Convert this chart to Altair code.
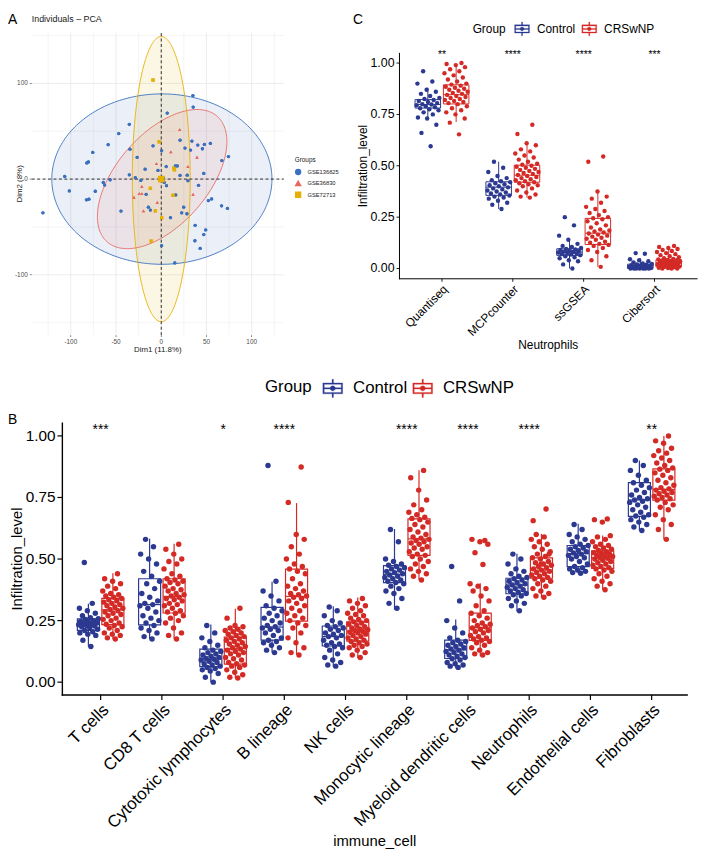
import numpy as np
import pandas as pd
import altair as alt

FONT = "Liberation Sans"

# ---------------- Panel A : PCA individuals ----------------
A_GROUPS = ["GSE136825", "GSE36830", "GSE72713"]
A_COLORS = ["#3A70BF", "#E8685F", "#E6B000"]
A_SHAPES = ["circle", "triangle-up", "square"]

GSE136825_DIM1 = [-26.6, 5.5, 15.6, 17.8, -3.6, -17.8, -35.3, -28.7, -22.6, 3.3, 5.8, -16.7, -14.2, -12.0, 16.0,
                  10.2, 24.8, 22.6, 28.4, 20.8, 28.7, 29.5, 26.2, 20.8, -9.1, 0.4,
                  33.9, 32.4, 40.4, 47.7, 45.5, 54.3, 47.0, 41.2, 67.0, 74.3, 52.1, 55.7, 66.7, 73.2, 37.5, 49.2,
                  47.0, 37.2, 43.0, 0.4, 15.0, -44.5, -64.1, -62.6, -56.5, -72.9, -75.7, -58.7, -47.0, -35.3,
                  -34.6, 6.6, 35.0, 35.3, -80.5, -82.3, -106.7, -101.6, -130.8, -82.7, -80.0]
GSE136825_DIM2 = [22.7, 13.1, 13.8, 13.8, 9.0, 10.3, 4.5, 1.4, -1.4, -3.5, -6.9, -15.9, -29.3, -32.4, -16.5,
                  -40.3, -29.3, -35.2, -36.2, 3.8, 4.1, -1.7, 32.4, 40.6, 34.8, 29.6,
                  39.7, 30.3, 35.5, 36.2, 31.7, 37.2, 5.9, -6.5, 19.3, 23.5, -22.4, -20.7, -27.9, -30.7, -48.3, -53.1,
                  -57.9, -64.4, -72.4, -69.6, -87.6, -33.4, -3.5, -6.2, -0.7, -12.7, 27.9, 35.9, 47.6, 57.2,
                  31.3, 69.0, 87.2, 75.2, 17.9, 16.9, 2.8, -12.4, -35.2, -21.7, -21.0]
GSE36830_DIM1 = [20.4, 10.6, -5.3, 39.5, 29.5, -21.5, -24.4, -21.5, -30.2, 35.2, -4.4, -19.7]
GSE36830_DIM2 = [51.7, 28.4, 16.2, 22.8, 13.1, -7.6, -15.2, -15.2, -19.0, -16.0, -24.3, -33.2]
GSE72713_DIM1 = [-9.1, -2.3, 13.8, 14.6, -12.0, 13.1, -6.5, 0.4, -11.0]
GSE72713_DIM2 = [103.4, 39.0, 11.4, 9.7, -9.7, -16.9, -33.2, -40.4, -64.8]

# group means and concentration ellipses (center, semi-axes, rotation in degrees)
MEAN_DIM1 = [0.7, 1.0, 0.0]
MEAN_DIM2 = [0.0, 0.0, 0.0]
ELL_A = [121.7, 89.5, 32.0]
ELL_B = [89.0, 49.0, 149.0]
ELL_ANGLE = [0.0, 45.8, 0.0]

A_GRID_X_MAJOR = [-100, -50, 0, 50, 100]
A_GRID_X_MINOR = [-125, -75, -25, 25, 75, 125]
A_GRID_Y_MAJOR = [-100, 0, 100]
A_GRID_Y_MINOR = [-150, -50, 50, 150]
A_XTICKS = [-100, -50, 0, 50, 100]
A_XTICK_LABELS = ["-100", "-50", "0", "50", "100"]
A_YTICKS = [-100, 0, 100]
A_YTICK_LABELS = ["-100", "0", "100"]
A_XDOM = [-143.2, 135.5]
A_YDOM = [-163.0, 153.0]

# ---------------- Panels B and C : immune infiltration ----------------
GROUPS = ["Control", "CRSwNP"]
GROUP_COLORS = ["#2B3990", "#D42A26"]
SIG_Y = 1.0
LEVEL_TICKS = [0.0, 0.25, 0.5, 0.75, 1.0]
LEVEL_TICK_LABELS = ["0.00", "0.25", "0.50", "0.75", "1.00"]

B_CATS = ["T cells", "CD8 T cells", "Cytotoxic lymphocytes", "B lineage", "NK cells",
          "Monocytic lineage", "Myeloid dendritic cells", "Neutrophils", "Endothelial cells", "Fibroblasts"]
B_SIG = ["***", "", "*", "****", "", "****", "****", "****", "", "**"]

B_CTRL_LO = [0.145, 0.174, 0.0, 0.12, 0.063, 0.294, 0.057, 0.288, 0.442, 0.616]
B_CTRL_Q1 = [0.21, 0.233, 0.063, 0.171, 0.147, 0.404, 0.096, 0.359, 0.469, 0.673]
B_CTRL_MED = [0.234, 0.315, 0.094, 0.224, 0.185, 0.438, 0.131, 0.395, 0.522, 0.74]
B_CTRL_Q3 = [0.257, 0.42, 0.134, 0.304, 0.228, 0.473, 0.171, 0.422, 0.555, 0.81]
B_CTRL_HI = [0.318, 0.582, 0.234, 0.408, 0.308, 0.622, 0.254, 0.522, 0.643, 0.90]
B_CRS_LO = [0.174, 0.174, 0.017, 0.111, 0.098, 0.415, 0.107, 0.344, 0.375, 0.58]
B_CRS_Q1 = [0.234, 0.281, 0.073, 0.248, 0.167, 0.515, 0.17, 0.422, 0.462, 0.739]
B_CRS_MED = [0.294, 0.348, 0.136, 0.348, 0.207, 0.582, 0.221, 0.455, 0.505, 0.783]
B_CRS_Q3 = [0.34, 0.42, 0.183, 0.459, 0.245, 0.663, 0.28, 0.505, 0.533, 0.866]
B_CRS_HI = [0.442, 0.562, 0.298, 0.727, 0.344, 0.861, 0.402, 0.602, 0.596, 1.0]

B_CTRL_PTS = [
    [0.145, 0.17, 0.19, 0.195, 0.20, 0.205, 0.21, 0.215, 0.22, 0.225, 0.228, 0.23, 0.233, 0.235, 0.238, 0.24, 0.243, 0.247, 0.25, 0.255, 0.258, 0.262, 0.27, 0.28, 0.29, 0.30, 0.32, 0.486],
    [0.175, 0.185, 0.20, 0.21, 0.22, 0.23, 0.24, 0.25, 0.26, 0.27, 0.285, 0.30, 0.31, 0.315, 0.32, 0.33, 0.345, 0.36, 0.38, 0.40, 0.41, 0.43, 0.45, 0.48, 0.50, 0.52, 0.55, 0.58],
    [0.0, 0.02, 0.035, 0.045, 0.05, 0.055, 0.06, 0.065, 0.07, 0.075, 0.08, 0.085, 0.09, 0.093, 0.096, 0.10, 0.105, 0.11, 0.115, 0.12, 0.125, 0.13, 0.14, 0.15, 0.165, 0.18, 0.20, 0.23],
    [0.12, 0.13, 0.14, 0.15, 0.16, 0.165, 0.17, 0.18, 0.19, 0.20, 0.21, 0.215, 0.22, 0.225, 0.23, 0.24, 0.25, 0.26, 0.27, 0.28, 0.29, 0.30, 0.31, 0.33, 0.35, 0.37, 0.41, 0.88],
    [0.065, 0.07, 0.08, 0.09, 0.10, 0.115, 0.13, 0.14, 0.145, 0.15, 0.155, 0.16, 0.17, 0.18, 0.185, 0.19, 0.195, 0.20, 0.21, 0.215, 0.22, 0.225, 0.23, 0.24, 0.25, 0.27, 0.29, 0.305],
    [0.30, 0.32, 0.34, 0.36, 0.37, 0.38, 0.39, 0.40, 0.405, 0.41, 0.415, 0.42, 0.425, 0.43, 0.435, 0.44, 0.445, 0.45, 0.455, 0.46, 0.465, 0.47, 0.475, 0.48, 0.49, 0.50, 0.57, 0.62],
    [0.06, 0.065, 0.07, 0.075, 0.08, 0.09, 0.095, 0.10, 0.105, 0.11, 0.115, 0.12, 0.125, 0.13, 0.135, 0.14, 0.145, 0.15, 0.155, 0.16, 0.165, 0.17, 0.18, 0.20, 0.22, 0.25, 0.33, 0.47],
    [0.29, 0.31, 0.32, 0.33, 0.34, 0.35, 0.355, 0.36, 0.365, 0.37, 0.375, 0.38, 0.385, 0.39, 0.395, 0.40, 0.405, 0.41, 0.415, 0.42, 0.425, 0.43, 0.44, 0.45, 0.46, 0.48, 0.50, 0.52],
    [0.442, 0.445, 0.45, 0.455, 0.46, 0.465, 0.47, 0.48, 0.49, 0.50, 0.505, 0.51, 0.515, 0.52, 0.525, 0.53, 0.535, 0.54, 0.545, 0.55, 0.555, 0.56, 0.57, 0.58, 0.59, 0.60, 0.62, 0.64],
    [0.616, 0.63, 0.64, 0.65, 0.66, 0.67, 0.675, 0.68, 0.69, 0.70, 0.71, 0.72, 0.73, 0.735, 0.74, 0.745, 0.75, 0.76, 0.77, 0.78, 0.79, 0.80, 0.81, 0.82, 0.84, 0.86, 0.88, 0.90],
]
B_CRS_PTS = [
    [0.175, 0.18, 0.19, 0.195, 0.20, 0.21, 0.22, 0.225, 0.23, 0.235, 0.24, 0.25, 0.255, 0.26, 0.27, 0.275, 0.28, 0.285, 0.29, 0.295, 0.30, 0.305, 0.31, 0.315, 0.32, 0.325, 0.33, 0.335, 0.34, 0.345, 0.35, 0.355, 0.36, 0.37, 0.38, 0.39, 0.40, 0.41, 0.42, 0.44],
    [0.175, 0.19, 0.20, 0.22, 0.24, 0.25, 0.26, 0.27, 0.28, 0.285, 0.29, 0.30, 0.31, 0.315, 0.32, 0.33, 0.335, 0.34, 0.345, 0.35, 0.355, 0.36, 0.37, 0.375, 0.38, 0.39, 0.40, 0.405, 0.41, 0.415, 0.42, 0.43, 0.44, 0.46, 0.48, 0.49, 0.50, 0.52, 0.54, 0.56],
    [0.017, 0.02, 0.03, 0.04, 0.05, 0.06, 0.065, 0.07, 0.075, 0.08, 0.09, 0.095, 0.10, 0.11, 0.115, 0.12, 0.125, 0.13, 0.135, 0.14, 0.145, 0.15, 0.155, 0.16, 0.165, 0.17, 0.175, 0.18, 0.185, 0.19, 0.195, 0.20, 0.205, 0.21, 0.215, 0.22, 0.225, 0.23, 0.26, 0.30],
    [0.11, 0.12, 0.14, 0.16, 0.18, 0.20, 0.22, 0.23, 0.24, 0.25, 0.26, 0.27, 0.28, 0.29, 0.30, 0.31, 0.32, 0.33, 0.34, 0.345, 0.35, 0.355, 0.36, 0.37, 0.38, 0.39, 0.40, 0.42, 0.44, 0.45, 0.46, 0.47, 0.48, 0.50, 0.52, 0.55, 0.58, 0.60, 0.73, 0.874],
    [0.10, 0.11, 0.12, 0.13, 0.14, 0.145, 0.15, 0.155, 0.16, 0.165, 0.17, 0.175, 0.18, 0.185, 0.19, 0.195, 0.20, 0.203, 0.206, 0.21, 0.213, 0.216, 0.22, 0.225, 0.23, 0.235, 0.24, 0.245, 0.25, 0.255, 0.26, 0.27, 0.275, 0.28, 0.29, 0.30, 0.31, 0.32, 0.33, 0.34],
    [0.415, 0.43, 0.44, 0.45, 0.46, 0.47, 0.48, 0.49, 0.50, 0.51, 0.515, 0.52, 0.53, 0.54, 0.545, 0.55, 0.56, 0.565, 0.57, 0.575, 0.58, 0.585, 0.59, 0.60, 0.61, 0.62, 0.63, 0.64, 0.65, 0.66, 0.665, 0.67, 0.68, 0.69, 0.70, 0.72, 0.74, 0.78, 0.83, 0.86],
    [0.11, 0.115, 0.12, 0.13, 0.14, 0.15, 0.16, 0.165, 0.17, 0.175, 0.18, 0.185, 0.19, 0.20, 0.205, 0.21, 0.215, 0.22, 0.225, 0.23, 0.235, 0.24, 0.25, 0.26, 0.27, 0.28, 0.29, 0.31, 0.33, 0.35, 0.37, 0.38, 0.39, 0.40, 0.478, 0.526, 0.56, 0.57, 0.58, 0.575],
    [0.345, 0.35, 0.36, 0.37, 0.38, 0.39, 0.40, 0.41, 0.415, 0.42, 0.425, 0.43, 0.435, 0.44, 0.445, 0.45, 0.455, 0.46, 0.465, 0.47, 0.475, 0.48, 0.485, 0.49, 0.50, 0.505, 0.51, 0.52, 0.53, 0.54, 0.55, 0.56, 0.57, 0.58, 0.59, 0.60, 0.52, 0.48, 0.656, 0.703],
    [0.375, 0.39, 0.40, 0.41, 0.42, 0.43, 0.44, 0.45, 0.455, 0.46, 0.465, 0.47, 0.475, 0.48, 0.485, 0.49, 0.495, 0.50, 0.503, 0.506, 0.51, 0.513, 0.516, 0.52, 0.523, 0.526, 0.53, 0.535, 0.54, 0.545, 0.55, 0.555, 0.56, 0.57, 0.58, 0.59, 0.595, 0.65, 0.66, 0.663],
    [0.58, 0.62, 0.64, 0.66, 0.68, 0.70, 0.71, 0.72, 0.73, 0.74, 0.745, 0.75, 0.755, 0.76, 0.765, 0.77, 0.775, 0.78, 0.785, 0.79, 0.80, 0.81, 0.82, 0.83, 0.84, 0.85, 0.86, 0.865, 0.87, 0.88, 0.89, 0.90, 0.91, 0.92, 0.93, 0.94, 0.95, 0.97, 0.98, 1.0],
]

C_CATS = ["Quantiseq", "MCPcounter", "ssGSEA", "Cibersort"]
C_SIG = ["**", "****", "****", "***"]
C_CTRL_LO = [0.73, 0.289, 0.0, 0.0]
C_CTRL_Q1 = [0.781, 0.356, 0.064, 0.0]
C_CTRL_MED = [0.798, 0.396, 0.08, 0.008]
C_CTRL_Q3 = [0.822, 0.422, 0.096, 0.021]
C_CTRL_HI = [0.88, 0.52, 0.14, 0.05]
C_CRS_LO = [0.713, 0.345, 0.008, 0.0]
C_CRS_Q1 = [0.801, 0.42, 0.117, 0.008]
C_CRS_MED = [0.846, 0.454, 0.172, 0.027]
C_CRS_Q3 = [0.894, 0.503, 0.244, 0.043]
C_CRS_HI = [0.995, 0.601, 0.377, 0.11]
C_CTRL_PTS = [
    [0.595, 0.66, 0.70, 0.73, 0.735, 0.75, 0.76, 0.77, 0.775, 0.78, 0.785, 0.79, 0.795, 0.798, 0.80, 0.805, 0.81, 0.815, 0.82, 0.825, 0.83, 0.84, 0.85, 0.86, 0.87, 0.90, 0.91, 0.96],
    [0.29, 0.31, 0.32, 0.33, 0.34, 0.345, 0.35, 0.355, 0.36, 0.365, 0.37, 0.375, 0.38, 0.385, 0.39, 0.395, 0.40, 0.405, 0.41, 0.415, 0.42, 0.425, 0.43, 0.44, 0.45, 0.47, 0.49, 0.52],
    [0.0, 0.02, 0.035, 0.04, 0.05, 0.055, 0.06, 0.065, 0.068, 0.07, 0.073, 0.076, 0.078, 0.08, 0.082, 0.085, 0.088, 0.09, 0.093, 0.095, 0.10, 0.105, 0.11, 0.12, 0.14, 0.16, 0.21, 0.25],
    [0.0, 0.0, 0.0, 0.0, 0.0, 0.0, 0.0, 0.002, 0.004, 0.005, 0.006, 0.007, 0.008, 0.009, 0.01, 0.012, 0.014, 0.016, 0.018, 0.02, 0.022, 0.025, 0.03, 0.035, 0.04, 0.045, 0.072, 0.075],
]
C_CRS_PTS = [
    [0.653, 0.71, 0.73, 0.75, 0.76, 0.77, 0.78, 0.79, 0.80, 0.805, 0.81, 0.815, 0.82, 0.825, 0.83, 0.835, 0.84, 0.845, 0.85, 0.855, 0.86, 0.865, 0.87, 0.875, 0.88, 0.885, 0.89, 0.895, 0.90, 0.91, 0.92, 0.93, 0.94, 0.95, 0.96, 0.97, 0.98, 0.99, 0.995, 1.0],
    [0.345, 0.35, 0.36, 0.37, 0.38, 0.39, 0.40, 0.405, 0.41, 0.415, 0.42, 0.425, 0.43, 0.435, 0.44, 0.445, 0.45, 0.455, 0.46, 0.465, 0.47, 0.475, 0.48, 0.485, 0.49, 0.495, 0.50, 0.505, 0.51, 0.52, 0.53, 0.54, 0.55, 0.56, 0.57, 0.58, 0.60, 0.61, 0.655, 0.70],
    [0.008, 0.04, 0.06, 0.08, 0.09, 0.10, 0.11, 0.115, 0.12, 0.125, 0.13, 0.14, 0.145, 0.15, 0.155, 0.16, 0.165, 0.17, 0.175, 0.18, 0.185, 0.19, 0.20, 0.21, 0.22, 0.23, 0.24, 0.245, 0.25, 0.26, 0.27, 0.28, 0.29, 0.30, 0.32, 0.34, 0.35, 0.375, 0.52, 0.545],
    [0.0, 0.0, 0.0, 0.002, 0.004, 0.006, 0.008, 0.01, 0.012, 0.014, 0.016, 0.018, 0.02, 0.022, 0.024, 0.026, 0.027, 0.028, 0.03, 0.032, 0.034, 0.036, 0.038, 0.04, 0.042, 0.044, 0.046, 0.05, 0.055, 0.06, 0.065, 0.07, 0.075, 0.08, 0.085, 0.09, 0.095, 0.10, 0.105, 0.11],
]

# boxplot legend key drawn as a filled outline (box with hole, median bar, whiskers, dot)
BOX_GLYPH = ("M-1,-0.55H1V0.55H-1Z "
             "M-0.86,-0.41V0.41H0.86V-0.41Z "
             "M-0.86,-0.07H0.86V0.07H-0.86Z "
             "M-0.07,-0.92H0.07V-0.55H-0.07Z "
             "M-0.07,0.55H0.07V0.92H-0.07Z "
             "M-0.26,0A0.26,0.26,0,1,1,0.26,0A0.26,0.26,0,1,1,-0.26,0Z")


# ======================= hand-built axes (ggplot look) =======================
def manual_axes(xsc, ysc, xdom, ydom, xvals, xlabs, yvals, ylabs, xtitle, ytitle, st):
    out = []
    if st["domain"]:
        out.append(alt.Chart(alt.Data(values=[{"a": xdom[0], "b": xdom[1], "c": ydom[0]}]))
                   .mark_rule(color=st["line"], strokeWidth=st["dw"], strokeCap="square")
                   .encode(x=alt.X("a:Q", scale=xsc, axis=None), x2="b:Q",
                           y=alt.Y("c:Q", scale=ysc, axis=None)))
        out.append(alt.Chart(alt.Data(values=[{"a": ydom[0], "b": ydom[1], "c": xdom[0]}]))
                   .mark_rule(color=st["line"], strokeWidth=st["dw"], strokeCap="square")
                   .encode(y=alt.Y("a:Q", scale=ysc, axis=None), y2="b:Q",
                           x=alt.X("c:Q", scale=xsc, axis=None)))
    xd = pd.DataFrame({"v": xvals, "lab": xlabs})
    xd["c"] = ydom[0]
    yd = pd.DataFrame({"v": yvals, "lab": ylabs})
    yd["c"] = xdom[0]
    out.append(alt.Chart(xd).mark_tick(orient="vertical", size=st["tick"], thickness=st["tw"],
                                       yOffset=st["tick"] / 2, color=st["line"], opacity=1)
               .encode(x=alt.X("v:Q", scale=xsc, axis=None), y=alt.Y("c:Q", scale=ysc, axis=None)))
    out.append(alt.Chart(yd).mark_tick(orient="horizontal", size=st["tick"], thickness=st["tw"],
                                       xOffset=-st["tick"] / 2, color=st["line"], opacity=1)
               .encode(y=alt.Y("v:Q", scale=ysc, axis=None), x=alt.X("c:Q", scale=xsc, axis=None)))
    xl = dict(font=FONT, fontSize=st["xfs"], color=st["lab"], yOffset=st["tick"] + st["pad"])
    if st["rot"]:
        xl.update(angle=315, align="right", baseline="top")
    else:
        xl.update(align="center", baseline="top")
    out.append(alt.Chart(xd).mark_text(**xl)
               .encode(x=alt.X("v:Q", scale=xsc, axis=None), y=alt.Y("c:Q", scale=ysc, axis=None),
                       text="lab:N"))
    out.append(alt.Chart(yd).mark_text(font=FONT, fontSize=st["yfs"], color=st["lab"], align="right",
                                       baseline="middle", xOffset=-(st["tick"] + st["pad"]))
               .encode(y=alt.Y("v:Q", scale=ysc, axis=None), x=alt.X("c:Q", scale=xsc, axis=None),
                       text="lab:N"))
    out.append(alt.Chart(alt.Data(values=[{"m": (xdom[0] + xdom[1]) / 2, "c": ydom[0], "t": xtitle}]))
               .mark_text(font=FONT, fontSize=st["tfs"], color=st["tcol"], align="center",
                          baseline="middle", yOffset=st["xto"])
               .encode(x=alt.X("m:Q", scale=xsc, axis=None), y=alt.Y("c:Q", scale=ysc, axis=None),
                       text="t:N"))
    out.append(alt.Chart(alt.Data(values=[{"m": (ydom[0] + ydom[1]) / 2, "c": xdom[0], "t": ytitle}]))
               .mark_text(font=FONT, fontSize=st["tfs"], color=st["tcol"], align="center",
                          baseline="middle", angle=270, xOffset=st["yto"])
               .encode(y=alt.Y("m:Q", scale=ysc, axis=None), x=alt.X("c:Q", scale=xsc, axis=None),
                       text="t:N"))
    return out


# ======================= Panel A =======================
A_X = alt.Scale(domain=A_XDOM, range=[24, 279], nice=False, zero=False)
A_Y = alt.Scale(domain=A_YDOM, range=[326, 20], nice=False, zero=False)
A_COL = alt.Scale(domain=A_GROUPS, range=A_COLORS)
A_SHP = alt.Scale(domain=A_GROUPS, range=A_SHAPES)

pts_rows = []
for g, xs, ys in zip(A_GROUPS, [GSE136825_DIM1, GSE36830_DIM1, GSE72713_DIM1],
                     [GSE136825_DIM2, GSE36830_DIM2, GSE72713_DIM2]):
    for x, y in zip(xs, ys):
        pts_rows.append({"Group": g, "Dim1": x, "Dim2": y})
dfA = pd.DataFrame(pts_rows)
dfMean = pd.DataFrame({"Group": A_GROUPS, "Dim1": MEAN_DIM1, "Dim2": MEAN_DIM2})

outline_rows, area_rows = [], []
for g, cx, cy, a, b, ang in zip(A_GROUPS, MEAN_DIM1, MEAN_DIM2, ELL_A, ELL_B, ELL_ANGLE):
    th = np.deg2rad(ang)
    t = np.linspace(0, 2 * np.pi, 241)
    xs = cx + a * np.cos(t) * np.cos(th) - b * np.sin(t) * np.sin(th)
    ys = cy + a * np.cos(t) * np.sin(th) + b * np.sin(t) * np.cos(th)
    for k, (x, y) in enumerate(zip(xs, ys)):
        outline_rows.append({"Group": g, "ex": float(x), "ey": float(y), "ord": k})
    qa = np.cos(th) ** 2 / a ** 2 + np.sin(th) ** 2 / b ** 2
    qb = 2 * np.cos(th) * np.sin(th) * (1 / a ** 2 - 1 / b ** 2)
    qc = np.sin(th) ** 2 / a ** 2 + np.cos(th) ** 2 / b ** 2
    xm = np.sqrt(4 * qc / (4 * qa * qc - qb ** 2))
    xg = np.linspace(-xm, xm, 241)
    disc = np.clip(qb ** 2 * xg ** 2 - 4 * qc * (qa * xg ** 2 - 1), 0, None)
    up = (-qb * xg + np.sqrt(disc)) / (2 * qc)
    dn = (-qb * xg - np.sqrt(disc)) / (2 * qc)
    for x, u, d in zip(xg, up, dn):
        area_rows.append({"Group": g, "ex": float(cx + x), "ey": float(cy + u), "ey2": float(cy + d)})
dfOutline = pd.DataFrame(outline_rows)
dfArea = pd.DataFrame(area_rows)


def vgrid(values, width):
    return (alt.Chart(pd.DataFrame({"gx": values}))
            .transform_calculate(y0=str(A_YDOM[0]), y1=str(A_YDOM[1]))
            .mark_rule(color="#EAEAEA", strokeWidth=width)
            .encode(x=alt.X("gx:Q", scale=A_X, axis=None),
                    y=alt.Y("y0:Q", scale=A_Y, axis=None), y2="y1:Q"))


def hgrid(values, width):
    return (alt.Chart(pd.DataFrame({"gy": values}))
            .transform_calculate(x0=str(A_XDOM[0]), x1=str(A_XDOM[1]))
            .mark_rule(color="#EAEAEA", strokeWidth=width)
            .encode(y=alt.Y("gy:Q", scale=A_Y, axis=None),
                    x=alt.X("x0:Q", scale=A_X, axis=None), x2="x1:Q"))


legA = alt.Legend(orient="none", legendX=290, legendY=146, title="Groups",
                  titleFont=FONT, titleFontSize=6.5, titleFontWeight="normal", titleColor="#1A1A1A",
                  labelFont=FONT, labelFontSize=5.8, labelColor="#1A1A1A", symbolSize=24,
                  rowPadding=0.5, labelOffset=6, titlePadding=5, padding=0)

a_area = alt.Chart(dfArea).mark_area(fillOpacity=0.1).encode(
    x=alt.X("ex:Q", scale=A_X, axis=None), y=alt.Y("ey:Q", scale=A_Y, axis=None), y2="ey2:Q",
    fill=alt.Fill("Group:N", scale=A_COL, legend=None))
a_line = alt.Chart(dfOutline).mark_line(strokeWidth=0.9).encode(
    x=alt.X("ex:Q", scale=A_X, axis=None), y=alt.Y("ey:Q", scale=A_Y, axis=None),
    stroke=alt.Stroke("Group:N", scale=A_COL, legend=None), detail="Group:N", order="ord:Q")

zero_v = (alt.Chart(pd.DataFrame({"z": [0]}))
          .transform_calculate(y0=str(A_YDOM[0]), y1=str(A_YDOM[1]))
          .mark_rule(color="black", strokeDash=[3, 2.5], strokeWidth=0.8)
          .encode(x=alt.X("z:Q", scale=A_X, axis=None), y=alt.Y("y0:Q", scale=A_Y, axis=None), y2="y1:Q"))
zero_h = (alt.Chart(pd.DataFrame({"z": [0]}))
          .transform_calculate(x0=str(A_XDOM[0]), x1=str(A_XDOM[1]))
          .mark_rule(color="black", strokeDash=[3, 2.5], strokeWidth=0.8)
          .encode(y=alt.Y("z:Q", scale=A_Y, axis=None), x=alt.X("x0:Q", scale=A_X, axis=None), x2="x1:Q"))

a_pts = alt.Chart(dfA).mark_point(filled=True, size=11, opacity=1).encode(
    x=alt.X("Dim1:Q", scale=A_X, axis=None),
    y=alt.Y("Dim2:Q", scale=A_Y, axis=None),
    color=alt.Color("Group:N", scale=A_COL, legend=legA),
    shape=alt.Shape("Group:N", scale=A_SHP, legend=legA))

a_mean = alt.Chart(dfMean).mark_point(filled=True, size=45, opacity=1).encode(
    x=alt.X("Dim1:Q", scale=A_X, axis=None), y=alt.Y("Dim2:Q", scale=A_Y, axis=None),
    color=alt.Color("Group:N", scale=A_COL, legend=None),
    shape=alt.Shape("Group:N", scale=A_SHP, legend=None))

A_STYLE = dict(domain=False, line="#333333", dw=0.6, tick=2, tw=0.6, pad=2, lab="#4D4D4D",
               xfs=6.5, yfs=6.5, rot=False, tfs=8, tcol="#1A1A1A", xto=15, yto=-12)
panelA = alt.layer(a_pts, vgrid(A_GRID_X_MINOR, 0.5), hgrid(A_GRID_Y_MINOR, 0.5),
                   vgrid(A_GRID_X_MAJOR, 0.9), hgrid(A_GRID_Y_MAJOR, 0.9),
                   a_area, a_line, zero_v, zero_h, a_pts, a_mean,
                   *manual_axes(A_X, A_Y, A_XDOM, A_YDOM, A_XTICKS, A_XTICK_LABELS, A_YTICKS,
                                A_YTICK_LABELS, "Dim1 (11.8%)", "Dim2 (8%)", A_STYLE))


# ======================= box panels =======================
def box_panel(cats, ctrl_stats, crs_stats, ctrl_pts, crs_pts, sig, xsc, ysc, legend,
              pt_size, star_size, star_dy, lw):
    gsc = alt.Scale(domain=GROUPS, range=GROUP_COLORS)
    rows = []
    for g, side, st in (("Control", -1, ctrl_stats), ("CRSwNP", 1, crs_stats)):
        lo, q1, med, q3, hi = st
        for i in range(len(cats)):
            rows.append({"idx": i, "Group": g, "side": side, "lo": lo[i], "q1": q1[i],
                         "med": med[i], "q3": q3[i], "hi": hi[i]})
    box_df = pd.DataFrame(rows)
    prow = []
    for g, side, pts in (("Control", -1, ctrl_pts), ("CRSwNP", 1, crs_pts)):
        for i, vals in enumerate(pts):
            for v in vals:
                prow.append({"idx": i, "Group": g, "side": side, "val": v})
    pt_df = pd.DataFrame(prow)

    base = (alt.Chart(box_df)
            .transform_calculate(xc="datum.idx + datum.side * 0.2")
            .transform_calculate(xl="datum.xc - 0.18", xr="datum.xc + 0.18"))
    stk = alt.Stroke("Group:N", scale=gsc, legend=None)
    boxes = base.mark_rect(filled=False, fill="transparent", strokeWidth=lw).encode(
        x=alt.X("xl:Q", scale=xsc, axis=None), x2="xr:Q",
        y=alt.Y("q1:Q", scale=ysc, axis=None), y2="q3:Q",
        stroke=alt.Stroke("Group:N", scale=gsc, legend=legend))
    meds = base.mark_rule(strokeWidth=lw).encode(
        x=alt.X("xl:Q", scale=xsc, axis=None), x2="xr:Q",
        y=alt.Y("med:Q", scale=ysc, axis=None), stroke=stk)
    wlo = base.mark_rule(strokeWidth=lw).encode(
        x=alt.X("xc:Q", scale=xsc, axis=None),
        y=alt.Y("lo:Q", scale=ysc, axis=None), y2="q1:Q", stroke=stk)
    whi = base.mark_rule(strokeWidth=lw).encode(
        x=alt.X("xc:Q", scale=xsc, axis=None),
        y=alt.Y("q3:Q", scale=ysc, axis=None), y2="hi:Q", stroke=stk)
    pts = (alt.Chart(pt_df)
           .transform_window(rn="row_number()", groupby=["idx", "Group"])
           .transform_calculate(jx="datum.idx + datum.side * 0.2 + (((datum.rn * 0.618034) % 1) - 0.5) * 0.34")
           .mark_circle(size=pt_size, opacity=1)
           .encode(x=alt.X("jx:Q", scale=xsc, axis=None),
                   y=alt.Y("val:Q", scale=ysc, axis=None),
                   fill=alt.Fill("Group:N", scale=gsc, legend=None)))
    stars = (alt.Chart(pd.DataFrame({"idx": list(range(len(cats))), "sig": sig}))
             .transform_calculate(ys=str(SIG_Y))
             .mark_text(font=FONT, fontSize=star_size, baseline="alphabetic", align="center",
                        color="black", dy=star_dy)
             .encode(x=alt.X("idx:Q", scale=xsc, axis=None),
                     y=alt.Y("ys:Q", scale=ysc, axis=None), text="sig:N"))
    return [boxes, wlo, whi, meds, pts, stars]


# ----- Panel C -----
C_XDOM = [-0.6, 3.6]
C_YDOM = [-0.05, 1.047]
C_X = alt.Scale(domain=C_XDOM, range=[396, 697], nice=False, zero=False)
C_Y = alt.Scale(domain=C_YDOM, range=[269, 41], nice=False, zero=False)
c_leg = alt.Legend(orient="none", legendX=470, legendY=8, direction="horizontal", title="Group",
                   titleOrient="left", titleFont=FONT, titleFontSize=12, titleFontWeight="normal",
                   titleColor="black", labelFont=FONT, labelFontSize=12, labelColor="black",
                   symbolType=BOX_GLYPH, symbolSize=225, symbolStrokeWidth=0.3,
                   labelOffset=7, columnPadding=5, titlePadding=8, padding=0)
C_STYLE = dict(domain=True, line="black", dw=1.0, tick=3, tw=0.9, pad=2, lab="black",
               xfs=12, yfs=12.5, rot=True, tfs=12, tcol="black", xto=67, yto=-37)
panelC = alt.layer(*box_panel(C_CATS,
                              (C_CTRL_LO, C_CTRL_Q1, C_CTRL_MED, C_CTRL_Q3, C_CTRL_HI),
                              (C_CRS_LO, C_CRS_Q1, C_CRS_MED, C_CRS_Q3, C_CRS_HI),
                              C_CTRL_PTS, C_CRS_PTS, C_SIG, C_X, C_Y, c_leg,
                              pt_size=20, star_size=10.5, star_dy=-5, lw=1.0),
                   *manual_axes(C_X, C_Y, C_XDOM, C_YDOM, list(range(len(C_CATS))), C_CATS,
                                LEVEL_TICKS, LEVEL_TICK_LABELS, "Neutrophils", "Infiltration_level",
                                C_STYLE))

# ----- Panel B -----
B_XDOM = [-0.625, 9.58]
B_YDOM = [-0.052, 1.052]
B_X = alt.Scale(domain=B_XDOM, range=[55, 687], nice=False, zero=False)
B_Y = alt.Scale(domain=B_YDOM, range=[690, 415], nice=False, zero=False)
b_leg = alt.Legend(orient="none", legendX=260, legendY=369, direction="horizontal", title="Group",
                   titleOrient="left", titleFont=FONT, titleFontSize=17, titleFontWeight="normal",
                   titleColor="black", labelFont=FONT, labelFontSize=17, labelColor="black",
                   symbolType=BOX_GLYPH, symbolSize=400, symbolStrokeWidth=0.3,
                   labelOffset=10, columnPadding=4, titlePadding=10, padding=0)
B_STYLE = dict(domain=True, line="black", dw=1.4, tick=5, tw=1.2, pad=2, lab="black",
               xfs=17, yfs=15.5, rot=True, tfs=15, tcol="black", xto=148, yto=-46)
panelB = alt.layer(*box_panel(B_CATS,
                              (B_CTRL_LO, B_CTRL_Q1, B_CTRL_MED, B_CTRL_Q3, B_CTRL_HI),
                              (B_CRS_LO, B_CRS_Q1, B_CRS_MED, B_CRS_Q3, B_CRS_HI),
                              B_CTRL_PTS, B_CRS_PTS, B_SIG, B_X, B_Y, b_leg,
                              pt_size=30, star_size=14, star_dy=-2, lw=1.2),
                   *manual_axes(B_X, B_Y, B_XDOM, B_YDOM, list(range(len(B_CATS))), B_CATS,
                                LEVEL_TICKS, LEVEL_TICK_LABELS, "immune_cell", "Infiltration_level",
                                B_STYLE))


# ----- panel tags and subtitle -----
def tag(text, x, y, size, color="black"):
    return alt.Chart(alt.Data(values=[{"t": text}])).mark_text(
        x=x, y=y, align="left", baseline="alphabetic", font=FONT, fontSize=size, color=color
    ).encode(text="t:N")


tags = [tag("A", 0, 11, 14), tag("C", 349, 11, 14), tag("B", 0, 416, 14),
        tag("Individuals \u2013 PCA", 24, 9, 9, "#1A1A1A")]

chart = (alt.layer(panelA, panelC, panelB, *tags)
         .resolve_scale(x="independent", y="independent", color="independent",
                        shape="independent", fill="independent", stroke="independent")
         .properties(width=700, height=850, padding=0, autosize=alt.AutoSizeParams(type="none"))
         .configure_view(stroke=None))

chart.save("out.html", embed_options={"renderer": "svg", "actions": False})
